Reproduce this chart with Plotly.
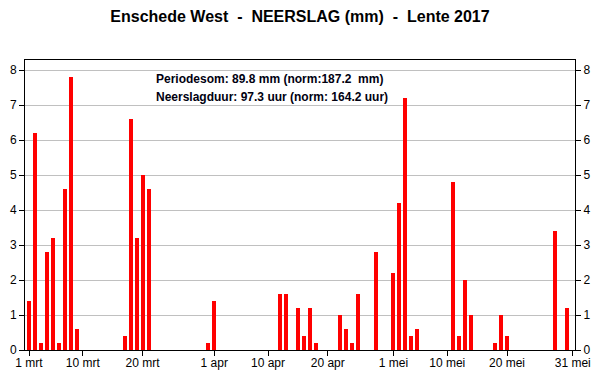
import plotly.graph_objects as go
import pandas as pd

# Daily precipitation (mm), spring 2017, Enschede West (only days with rain)
rain_dates = [
    "2017-03-01", "2017-03-02", "2017-03-03", "2017-03-04", "2017-03-05",
    "2017-03-06", "2017-03-07", "2017-03-08", "2017-03-09",
    "2017-03-17", "2017-03-18", "2017-03-19", "2017-03-20", "2017-03-21",
    "2017-03-31", "2017-04-01",
    "2017-04-12", "2017-04-13", "2017-04-15", "2017-04-16", "2017-04-17", "2017-04-18",
    "2017-04-22", "2017-04-23", "2017-04-24", "2017-04-25",
    "2017-04-28",
    "2017-05-01", "2017-05-02", "2017-05-03", "2017-05-04", "2017-05-05",
    "2017-05-11", "2017-05-12", "2017-05-13", "2017-05-14",
    "2017-05-18", "2017-05-19", "2017-05-20",
    "2017-05-28", "2017-05-30",
]
rain_mm = [
    1.4, 6.2, 0.2, 2.8, 3.2,
    0.2, 4.6, 7.8, 0.6,
    0.4, 6.6, 3.2, 5.0, 4.6,
    0.2, 1.4,
    1.6, 1.6, 1.2, 0.4, 1.2, 0.2,
    1.0, 0.6, 0.2, 1.6,
    2.8,
    2.2, 4.2, 7.2, 0.4, 0.6,
    4.8, 0.4, 2.0, 1.0,
    0.2, 1.0, 0.4,
    3.4, 1.2,
]

tick_dates = ["2017-03-01", "2017-03-10", "2017-03-20", "2017-04-01", "2017-04-10",
              "2017-04-20", "2017-05-01", "2017-05-10", "2017-05-20", "2017-05-31"]
tick_labels = ["1 mrt", "10 mrt", "20 mrt", "1 apr", "10 apr",
               "20 apr", "1 mei", "10 mei", "20 mei", "31 mei"]

y_ticks = [0, 1, 2, 3, 4, 5, 6, 7, 8]

title_text = "Enschede West  -  NEERSLAG (mm)  -  Lente 2017"
info_lines = ["Periodesom: 89.8 mm (norm:187.2  mm)",
              "Neerslagduur: 97.3 uur (norm: 164.2 uur)"]

start = pd.Timestamp("2017-03-01")
x_days = [(pd.Timestamp(d) - start).days for d in rain_dates]
tick_days = [(pd.Timestamp(d) - start).days for d in tick_dates]

FONT = "Liberation Sans, Arial, sans-serif"

fig = go.Figure()
fig.add_trace(go.Bar(
    x=x_days, y=rain_mm, width=0.67,
    marker=dict(color="#ff0000", line=dict(width=0)),
    showlegend=False, hoverinfo="x+y",
))
# invisible trace to drive the right-hand y axis
fig.add_trace(go.Scatter(x=[0], y=[0], yaxis="y2", mode="markers",
                         marker=dict(opacity=0), showlegend=False, hoverinfo="skip"))

yr = [0, 8.286]
fig.update_layout(
    width=600, height=390,
    margin=dict(l=25, r=25, t=60, b=40),
    paper_bgcolor="white", plot_bgcolor="white",
    font=dict(family=FONT, size=12, color="black"),
    title=dict(text="<b>" + title_text + "</b>", x=0.5, xanchor="center",
               y=1 - 16 / 390, yanchor="middle",
               font=dict(family=FONT, size=16, color="black")),
    bargap=0,
    xaxis=dict(
        range=[-0.67, 91.38], tickvals=tick_days, ticktext=tick_labels,
        ticks="outside", ticklen=5, tickcolor="black", tickwidth=1,
        showline=True, linecolor="black", linewidth=1, mirror=True,
        showgrid=False, zeroline=False, automargin=False,
        ticklabelstandoff=-3,
        tickfont=dict(family=FONT, size=12, color="black"),
    ),
    yaxis=dict(
        range=yr, tickvals=y_ticks,
        ticks="outside", ticklen=5, tickcolor="black", tickwidth=1,
        showline=True, linecolor="black", linewidth=1,
        showgrid=True, gridcolor="#c0c0c0", gridwidth=1, zeroline=False,
        automargin=False,
        tickfont=dict(family=FONT, size=12, color="black"),
    ),
    yaxis2=dict(
        range=yr, tickvals=y_ticks, overlaying="y", side="right",
        ticks="outside", ticklen=5, tickcolor="black", tickwidth=1,
        showline=True, linecolor="black", linewidth=1,
        showgrid=False, zeroline=False, automargin=False,
        tickfont=dict(family=FONT, size=12, color="black"),
    ),
)

for i, line in enumerate(info_lines):
    fig.add_annotation(
        text="<b>" + line + "</b>", xref="paper", yref="paper",
        x=(154 - 25) / 550, y=(350 - (79 + 18 * i)) / 290,
        xanchor="left", yanchor="middle", showarrow=False,
        font=dict(family=FONT, size=12, color="#000010"),
    )

fig.write_html("out.html", config={"displayModeBar": False},
               post_script="document.body.style.margin='0';document.body.style.overflow='hidden';")
